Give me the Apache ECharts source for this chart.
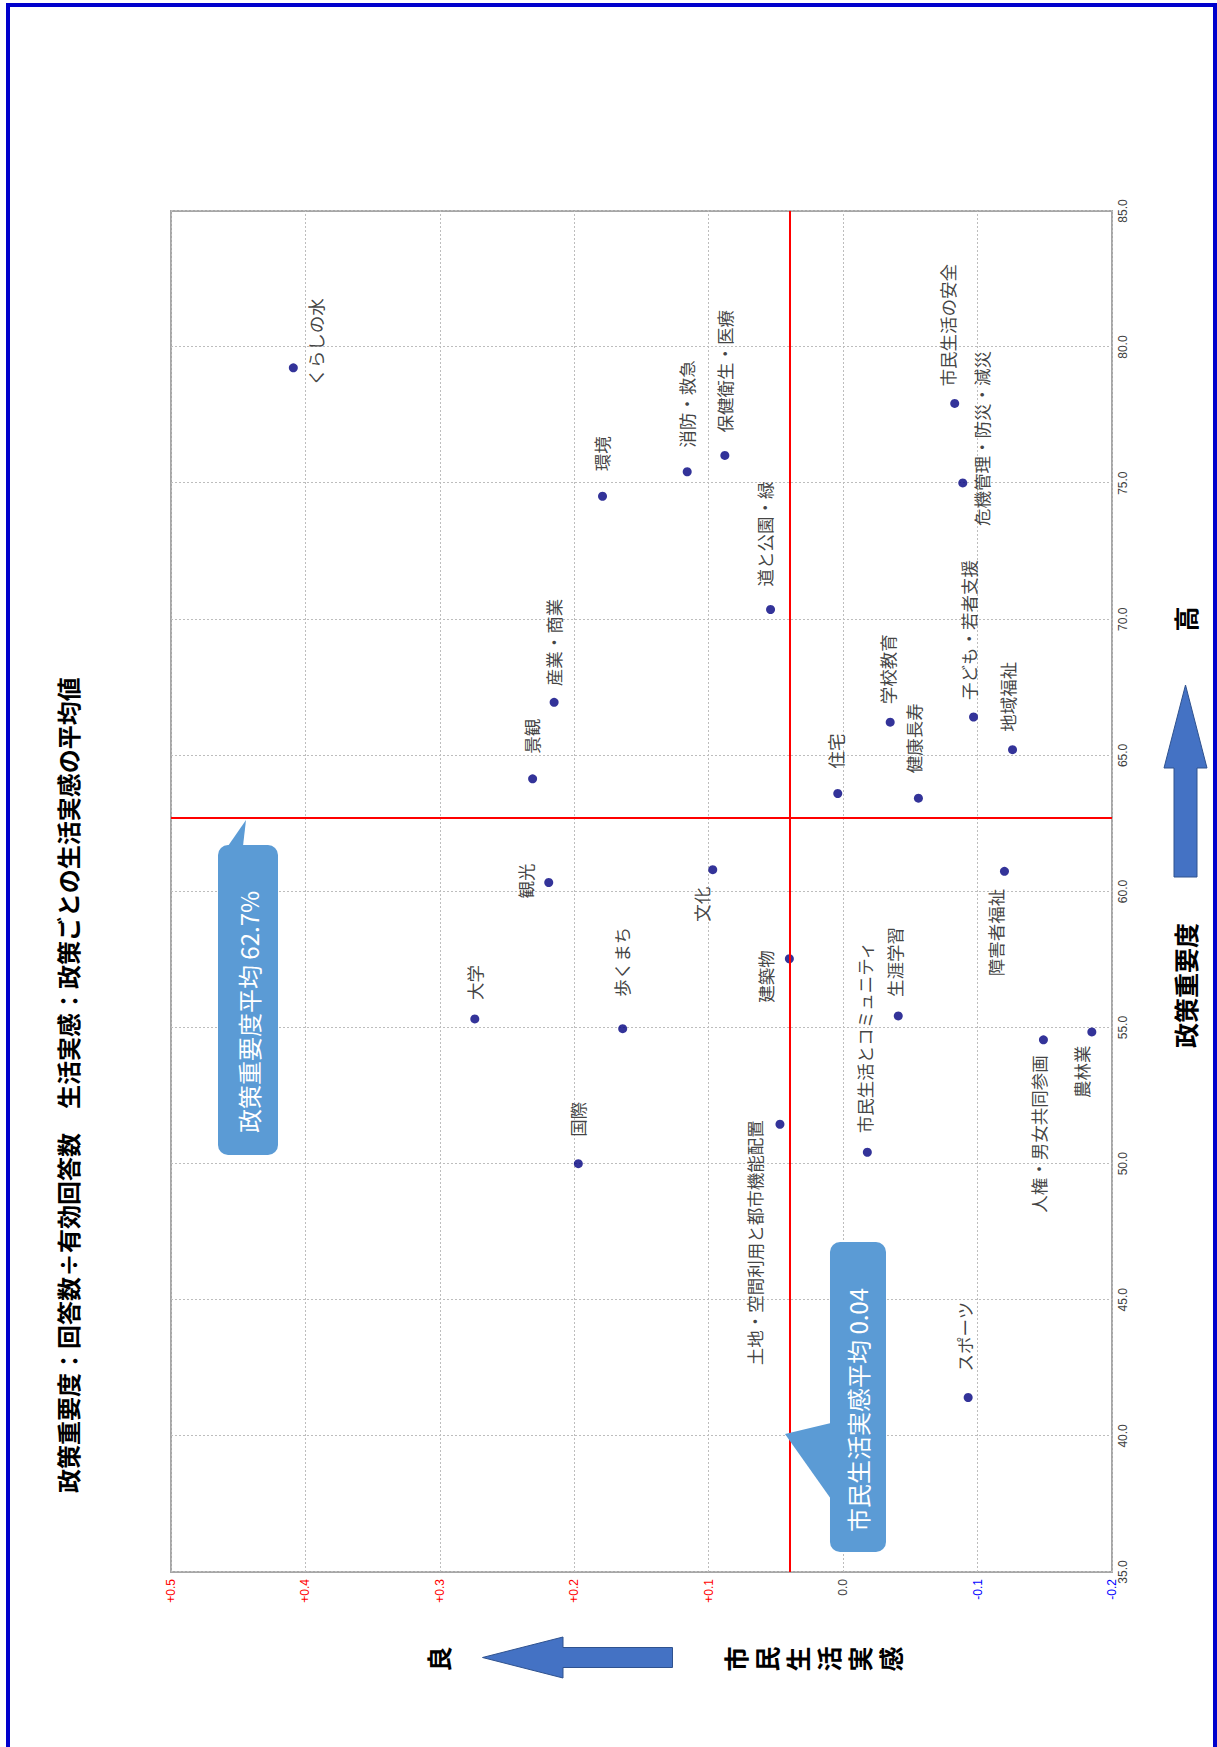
<!DOCTYPE html>
<html>
<head>
<meta charset="utf-8">
<script src="https://cdn.jsdelivr.net/npm/echarts/dist/echarts.min.js"></script>
<style>
html, body { margin:0; padding:0; overflow:hidden; background:#fff; width:1217px; height:1747px; }
#chart { position:absolute; left:0; top:0; width:1747px; height:1217px; transform-origin:0 0; transform:translate(0px, 1747px) rotate(-90deg); }
</style>
</head>
<body>
<div id="chart"></div>
<script>
// ---- data ----
const policyNames = ['くらしの水','環境','産業・商業','消防・救急','保健衛生・医療','市民生活の安全','危機管理・防災・減災','道と公園・緑','学校教育','子ども・若者支援','地域福祉','景観','観光','大学','歩くまち','国際','住宅','健康長寿','文化','障害者福祉','建築物','生涯学習','市民生活とコミュニティ','人権・男女共同参画','農林業','土地・空間利用と都市機能配置','スポーツ'];
const policyImportance = [79.24,74.52,66.95,75.42,76.02,77.93,75.01,70.36,66.22,66.41,65.21,64.14,60.33,55.32,54.96,50.00,63.60,63.43,60.80,60.74,57.53,55.43,50.42,54.55,54.84,51.45,41.41];
const lifeSense = [0.409,0.179,0.215,0.116,0.088,-0.083,-0.089,0.054,-0.035,-0.097,-0.126,0.231,0.219,0.274,0.164,0.197,0.004,-0.056,0.097,-0.120,0.040,-0.041,-0.018,-0.149,-0.185,0.047,-0.093];
const avgImportance = 62.7;
const avgLife = 0.044;
const importanceTickLabels = ['35.0','40.0','45.0','50.0','55.0','60.0','65.0','70.0','75.0','80.0','85.0'];
const lifeTickLabels = ['-0.2','-0.1','0.0','+0.1','+0.2','+0.3','+0.4','+0.5'];
const titleText = '政策重要度：回答数÷有効回答数　生活実感：政策ごとの生活実感の平均値';

// label placement offsets (pixels, relative to point)
const labelOffsets = [[-18,22],[25,-1],[16,-1],[24,-1],[23,0],[17,-7],[-43,19],[23,-6],[18,-3],[17,-5],[18,-5],[25,-1],[-16,-23],[19,0],[32,-1],[27,-1],[25,-2],[25,-5],[-52,-11],[-105,-9],[-44,-24],[19,-4],[19,-3],[-173,-5],[-66,-10],[-241,-25],[26,-4]];

const JP = '"Noto Sans CJK JP", "Noto Sans", sans-serif';
const half = 4.5;

const chart = echarts.init(document.getElementById('chart'), null, {renderer:'svg', width:1747, height:1217});

const seriesData = policyNames.map((n,i)=>({
  name:n,
  value:[policyImportance[i], lifeSense[i]],
  label:{position:[labelOffsets[i][0]+half, labelOffsets[i][1]+half]}
}));

const option = {
  animation:false,
  backgroundColor:'#ffffff',
  grid:{left:175, right:211, top:171, bottom:105, show:true, borderColor:'#A6A6A6', borderWidth:2, backgroundColor:'transparent'},
  xAxis:{
    type:'value', min:35, max:85, interval:5,
    axisLine:{show:false}, axisTick:{show:false},
    splitLine:{show:true, lineStyle:{color:'#BDBDBD', type:[2,2], width:1}},
    axisLabel:{
      formatter:(v)=>{ const i=Math.round((v-35)/5); return importanceTickLabels[i] !== undefined ? importanceTickLabels[i] : v.toFixed(1); },
      fontSize:12, color:'#404040', margin:5, fontFamily:'"Liberation Sans", Arial, sans-serif'
    }
  },
  yAxis:{
    type:'value', min:-0.2, max:0.5, interval:0.1,
    axisLine:{show:false}, axisTick:{show:false},
    splitLine:{show:true, lineStyle:{color:'#BDBDBD', type:[2,2], width:1}},
    axisLabel:{
      formatter:(v)=>{ const i=Math.round((v+0.2)/0.1); return lifeTickLabels[i] !== undefined ? lifeTickLabels[i] : v.toFixed(1); },
      color:(v)=>{ const n=parseFloat(v); return n>1e-6 ? '#FF0000' : (n<-1e-6 ? '#0000FF' : '#404040'); },
      fontSize:12, margin:7, fontFamily:'"Liberation Sans", Arial, sans-serif'
    }
  },
  series:[{
    type:'scatter',
    symbol:'circle',
    symbolSize:9,
    itemStyle:{color:'#000080'},
    data:seriesData,
    label:{show:true, formatter:'{b}', align:'left', verticalAlign:'middle', fontSize:17.5, color:'#111111', fontFamily:JP},
    markLine:{
      silent:true, symbol:'none', animation:false,
      label:{show:false},
      lineStyle:{color:'#FF0000', width:2, type:'solid'},
      data:[{xAxis:avgImportance},{yAxis:avgLife}]
    },
    z:3
  }]
};
chart.setOption(option);

const X1 = chart.convertToPixel({gridIndex:0}, [avgImportance, 0])[0];
const Y2 = chart.convertToPixel({gridIndex:0}, [50, avgLife])[1];
const boldFont = (s)=>({fontSize:s, fontWeight:'bold', fontFamily:JP, fill:'#000'});

const graphics = [
  // outer blue frame
  {type:'rect', shape:{x:-10, y:8, width:1752, height:1207}, style:{fill:'none', stroke:'#0000CC', lineWidth:4}, z:1, silent:true},
  // title
  {type:'text', x:254, y:67, style:Object.assign({text:titleText, align:'left', verticalAlign:'middle'}, boldFont(24)), z:10},
  // x axis name + arrow
  {type:'text', x:699, y:1185, style:Object.assign({text:'政策重要度', align:'left', verticalAlign:'middle'}, boldFont(25)), z:10},
  {type:'polygon', shape:{points:[[870,1174],[979,1174],[979,1164],[1062,1185.5],[979,1207],[979,1197],[870,1197]]}, style:{fill:'#4472C4', stroke:'#2F528F', lineWidth:1}, z:10},
  {type:'text', x:1128, y:1185, style:Object.assign({text:'高', align:'center', verticalAlign:'middle'}, boldFont(25)), z:10},
  // y axis name + arrow
  {type:'text', x:88, y:438, style:Object.assign({text:'良', align:'center', verticalAlign:'middle'}, boldFont(25)), z:10},
  {type:'polygon', shape:{points:[[79.5,672.5],[79.5,563],[69,563],[89.5,482.5],[110,563],[99.5,563],[99.5,672.5]]}, style:{fill:'#4472C4', stroke:'#2F528F', lineWidth:1}, z:10},
  {type:'text', x:88, y:719, style:Object.assign({text:'市\n民\n生\n活\n実\n感', align:'center', verticalAlign:'top', lineHeight:31}, boldFont(25)), z:10},
  // callout 1 (importance average)
  {type:'rect', shape:{x:X1-337, y:218, width:310, height:60, r:10}, style:{fill:'#5B9BD5'}, z:20},
  {type:'polygon', shape:{points:[[X1-28,228],[X1-2,246],[X1-28,243]]}, style:{fill:'#5B9BD5'}, z:20},
  {type:'text', x:X1-315, y:248, style:{text:'政策重要度平均 ' + avgImportance.toFixed(1) + '%', fill:'#ffffff', fontSize:24, fontFamily:JP, align:'left', verticalAlign:'middle'}, z:21},
  // callout 2 (life average)
  {type:'rect', shape:{x:195, y:Y2+46, width:310, height:56, r:10}, style:{fill:'#5B9BD5'}, z:20},
  {type:'polygon', shape:{points:[[248,Y2+47],[313,Y2+1],[324,Y2+47]]}, style:{fill:'#5B9BD5'}, z:20},
  {type:'text', x:215, y:Y2+74, style:{text:'市民生活実感平均 ' + avgLife.toFixed(2), fill:'#ffffff', fontSize:24, fontFamily:JP, align:'left', verticalAlign:'middle'}, z:21}
];
chart.setOption({graphic:graphics});
</script>
</body>
</html>
